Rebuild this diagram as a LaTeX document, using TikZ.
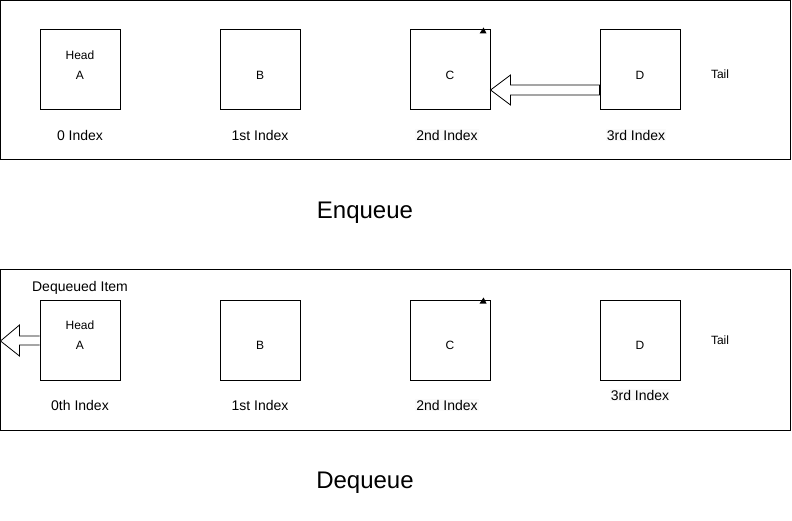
\documentclass[tikz,border=0pt]{standalone}
\usepackage{fontspec}
\setmainfont{Liberation Sans}
\usetikzlibrary{calc}
\tikzset{
  item/.style={draw, minimum size=80pt, inner sep=0pt},
  small/.style={font=\fontsize{12}{14}\selectfont, inner sep=1pt},
  idx/.style={font=\fontsize{14}{16}\selectfont, inner sep=1pt},
  idxbg/.style={idx, fill=gray!4},
  title/.style={font=\fontsize{24}{28}\selectfont},
  blockarrow/.style={draw, fill=white, line width=0.8pt, line join=miter},
}
\begin{document}
\begin{tikzpicture}[x=1pt, y=-1pt, line width=1pt]
    \useasboundingbox (0,0) rectangle (792,521);
    % enqueue
    \draw (0.5,0.5) rectangle (790,160);
    \node[item] (a1) at (80,70) {};
    \node[item] (b1) at (260,70) {};
    \node[item] (c1) at (450,70) {};
    \node[item] (d1) at (640,70) {};
    \node[small] (head1) at (80,55) {Head};
    \node[small] (la1) at ($(a1)+(0,5)$) {A};
    \node[small] (lb1) at ($(b1)+(0,5)$) {B};
    \node[small] (lc1) at ($(c1)+(0,5)$) {C};
    \node[small] (ld1) at ($(d1)+(0,5)$) {D};
    \node[small] (tail1) at (720,74) {Tail};
    \node[idx] (i0) at (80,135) {0 Index};
    \node[idx] (i1) at (260,135) {1st Index};
    \node[idxbg] (i2) at (447,135) {2nd Index};
    \node[idxbg] (i3) at (636,135) {3rd Index};
    \fill (c1.north east) ++(-11,4) -- ++(4,-6) -- ++(3,6) -- cycle;
    \coordinate (tip1) at ($(c1.east)+(0,20)$);
    \draw[blockarrow] (tip1) -- ++(20,-15) -- ++(0,10) -- ($(d1.west)+(0,15)$)
        -- ($(d1.west)+(0,25)$) -- ($(tip1)+(20,5)$) -- ++(0,10) -- cycle;
    \node[title] (enq) at (365,213) {Enqueue};
    % dequeue
    \draw (0.5,270) rectangle (790,430);
    \node[item] (a2) at (80,340) {};
    \node[item] (b2) at (260,340) {};
    \node[item] (c2) at (450,340) {};
    \node[item] (d2) at (640,340) {};
    \node[idx] (deq) at (80,288) {Dequeued Item};
    \node[small] (head2) at (80,325) {Head};
    \node[small] (la2) at ($(a2)+(0,5)$) {A};
    \node[small] (lb2) at ($(b2)+(0,5)$) {B};
    \node[small] (lc2) at ($(c2)+(0,5)$) {C};
    \node[small] (ld2) at ($(d2)+(0,5)$) {D};
    \node[small] (tail2) at (720,340) {Tail};
    \node[idx] (j0) at (80,405) {0th Index};
    \node[idx] (j1) at (260,405) {1st Index};
    \node[idxbg] (j2) at (447,405) {2nd Index};
    \node[idxbg] (j3) at (640,395) {3rd Index};
    \fill (c2.north east) ++(-11,4) -- ++(4,-6) -- ++(3,6) -- cycle;
    \coordinate (tip2) at (0.5,341);
    \draw[blockarrow] ($(a2.west)+(0,-4)$) -- ($(tip2)+(19,-5)$) -- ++(0,-11)
        -- (tip2) -- ++(19,15) -- ++(0,-11) -- ($(a2.west)+(0,5)$);
    \node[title] (deqt) at (365,483) {Dequeue};
\end{tikzpicture}
\end{document}
